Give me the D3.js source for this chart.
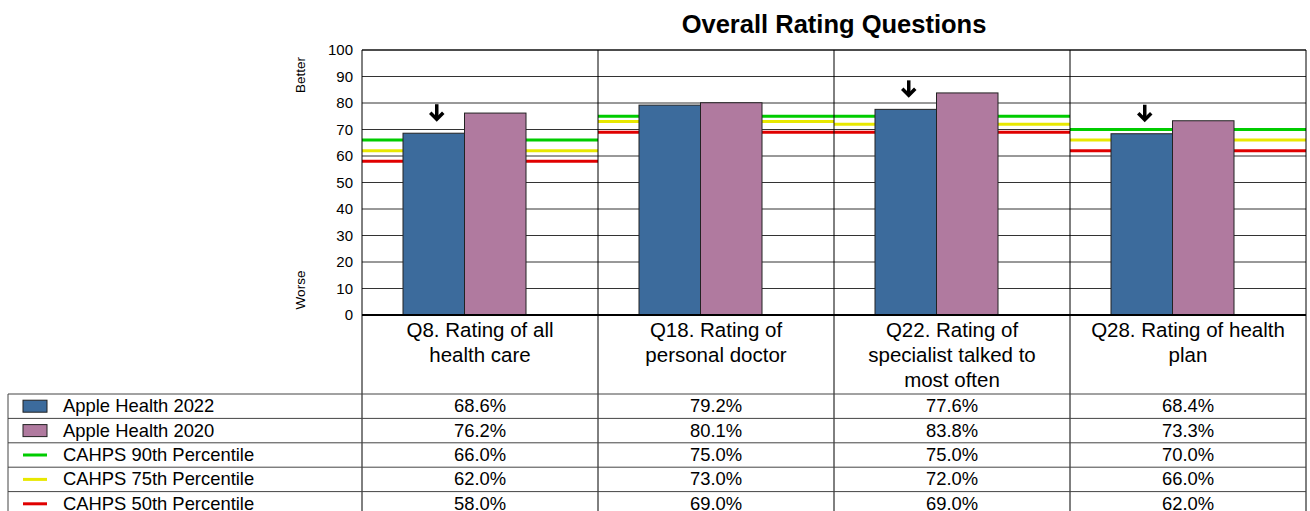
<!DOCTYPE html>
<html>
<head>
<meta charset="utf-8">
<script src="https://cdn.jsdelivr.net/npm/d3@7"></script>
<style>
  body { margin: 0; background: #fff; }
  text { font-family: Arial, "Liberation Sans", sans-serif; fill: #000; }
</style>
</head>
<body>
<svg id="chart" width="1310" height="511"></svg>
<script>
// chart data
var categories = ["Q8", "Q18", "Q22", "Q28"];
var categoryLabels = [
    ["Q8. Rating of all", "health care"],
    ["Q18. Rating of", "personal doctor"],
    ["Q22. Rating of", "specialist talked to", "most often"],
    ["Q28. Rating of health", "plan"]
];
var health2022 = [68.6, 79.2, 77.6, 68.4];
var health2020 = [76.2, 80.1, 83.8, 73.3];
var cahps90 = [66.0, 75.0, 75.0, 70.0];
var cahps75 = [62.0, 73.0, 72.0, 66.0];
var cahps50 = [58.0, 69.0, 69.0, 62.0];
var arrowDown = [true, false, true, true];
var yTicks = [0, 10, 20, 30, 40, 50, 60, 70, 80, 90, 100];

var barSeries = [
    {name: "Apple Health 2022", values: health2022, color: "#3C6B9C"},
    {name: "Apple Health 2020", values: health2020, color: "#B07A9F"}
];
var lineSeries = [
    {name: "CAHPS 90th Percentile", values: cahps90, color: "#00CC00"},
    {name: "CAHPS 75th Percentile", values: cahps75, color: "#E8E800"},
    {name: "CAHPS 50th Percentile", values: cahps50, color: "#E00000"}
];
var rows = barSeries.map(function(s){ return {name: s.name, values: s.values, color: s.color, type: "bar"}; })
    .concat(lineSeries.map(function(s){ return {name: s.name, values: s.values, color: s.color, type: "line"}; }));

var svg = d3.select("#chart");
var plotLeft = 362, plotRight = 1306, plotTop = 50, plotBottom = 315;
var tableLeft = 8, tableTop = 394, rowH = 24.4;

var x = d3.scaleBand().domain(categories).range([plotLeft, plotRight]).paddingInner(0).paddingOuter(0);
// bars sit a bit left of the category centre, like the original
var xBar = d3.scaleBand().domain([0, 1]).range([41, 164]);
var y = d3.scaleLinear().domain([0, 100]).range([plotBottom, plotTop]);

// title
svg.append("text")
    .attr("x", (plotLeft + plotRight) / 2).attr("y", 33)
    .attr("text-anchor", "middle")
    .style("font-size", "25.5px").style("font-weight", "bold")
    .text("Overall Rating Questions");

// gridlines
svg.append("g").selectAll("line").data(yTicks.filter(function(d){ return d > 0; }))
    .enter().append("line")
    .attr("x1", plotLeft).attr("x2", plotRight)
    .attr("y1", function(d){ return y(d); }).attr("y2", function(d){ return y(d); })
    .style("stroke", "#333").style("stroke-width", 1);

// y axis labels
var yAxis = d3.axisLeft(y).tickValues(yTicks).tickSize(0).tickPadding(9);
var ya = svg.append("g").attr("transform", "translate(" + plotLeft + ",0)").call(yAxis);
ya.select(".domain").remove();
ya.selectAll("text").style("font-size", "15px").style("font-family", "Arial, 'Liberation Sans', sans-serif");

svg.append("text").attr("transform", "translate(305,75) rotate(-90)")
    .attr("text-anchor", "middle").style("font-size", "13.5px").text("Better");
svg.append("text").attr("transform", "translate(305,290) rotate(-90)")
    .attr("text-anchor", "middle").style("font-size", "13.5px").text("Worse");

// percentile lines
lineSeries.forEach(function(s){
    svg.append("g").selectAll("line").data(categories).enter().append("line")
        .attr("x1", function(d){ return x(d); })
        .attr("x2", function(d){ return x(d) + x.bandwidth(); })
        .attr("y1", function(d, i){ return y(s.values[i]); })
        .attr("y2", function(d, i){ return y(s.values[i]); })
        .style("stroke", s.color).style("stroke-width", 3);
});

// bars
barSeries.forEach(function(s, k){
    svg.append("g").selectAll("rect").data(categories).enter().append("rect")
        .attr("x", function(d){ return x(d) + xBar(k); })
        .attr("y", function(d, i){ return y(s.values[i]); })
        .attr("width", xBar.bandwidth())
        .attr("height", function(d, i){ return y(0) - y(s.values[i]); })
        .style("fill", s.color).style("stroke", "#222").style("stroke-width", 1);
});

// significance arrows
categories.forEach(function(c, i){
    if (!arrowDown[i]) return;
    var cx = x(c) + xBar(0) + xBar.bandwidth() / 2 + 3;
    var yb = y(health2022[i]) - 12;
    var g = svg.append("g").attr("transform", "translate(" + cx + "," + yb + ")");
    g.append("line").attr("x1", 0).attr("x2", 0).attr("y1", -17).attr("y2", -2)
        .style("stroke", "#000").style("stroke-width", 3.5);
    g.append("path").attr("d", "M-6.5,-8.5 L0,-2 L6.5,-8.5")
        .style("fill", "none").style("stroke", "#000").style("stroke-width", 3.5);
});

// zero line
svg.append("line").attr("x1", plotLeft).attr("x2", plotRight).attr("y1", y(0)).attr("y2", y(0))
    .style("stroke", "#000").style("stroke-width", 2);

// category dividers (through chart and table)
svg.append("g").selectAll("line").data(categories.concat(["end"])).enter().append("line")
    .attr("x1", function(d){ return d === "end" ? plotRight : x(d); })
    .attr("x2", function(d){ return d === "end" ? plotRight : x(d); })
    .attr("y1", plotTop).attr("y2", 511)
    .style("stroke", "#000").style("stroke-width", 1);
svg.append("line").attr("x1", plotLeft).attr("x2", plotRight).attr("y1", plotTop).attr("y2", plotTop)
    .style("stroke", "#000").style("stroke-width", 1);

// category labels
categories.forEach(function(c, i){
    var t = svg.append("text").attr("text-anchor", "middle").style("font-size", "20.5px");
    categoryLabels[i].forEach(function(line, j){
        t.append("tspan").attr("x", x(c) + x.bandwidth() / 2).attr("y", 337 + j * 25).text(line);
    });
});

// table grid
var rowLines = d3.range(rows.length + 1);
svg.append("g").selectAll("line").data(rowLines).enter().append("line")
    .attr("x1", tableLeft).attr("x2", plotRight)
    .attr("y1", function(d){ return tableTop + d * rowH; })
    .attr("y2", function(d){ return tableTop + d * rowH; })
    .style("stroke", "#444").style("stroke-width", 1);
svg.append("line").attr("x1", tableLeft).attr("x2", tableLeft).attr("y1", tableTop).attr("y2", 511)
    .style("stroke", "#444");

// table rows
rows.forEach(function(r, i){
    var cy = tableTop + i * rowH + rowH / 2;
    if (r.type === "bar") {
        svg.append("rect").attr("x", 23).attr("y", cy - 6).attr("width", 24).attr("height", 12)
            .style("fill", r.color).style("stroke", "#222");
    } else {
        svg.append("line").attr("x1", 23).attr("x2", 47).attr("y1", cy).attr("y2", cy)
            .style("stroke", r.color).style("stroke-width", 3);
    }
    svg.append("text").attr("x", 63).attr("y", cy + 6).style("font-size", "18.4px").text(r.name);
    svg.append("g").selectAll("text").data(categories).enter().append("text")
        .attr("x", function(d){ return x(d) + x.bandwidth() / 2; })
        .attr("y", cy + 6)
        .attr("text-anchor", "middle").style("font-size", "18.4px")
        .text(function(d, j){ return r.values[j].toFixed(1) + "%"; });
});
</script>
</body>
</html>
